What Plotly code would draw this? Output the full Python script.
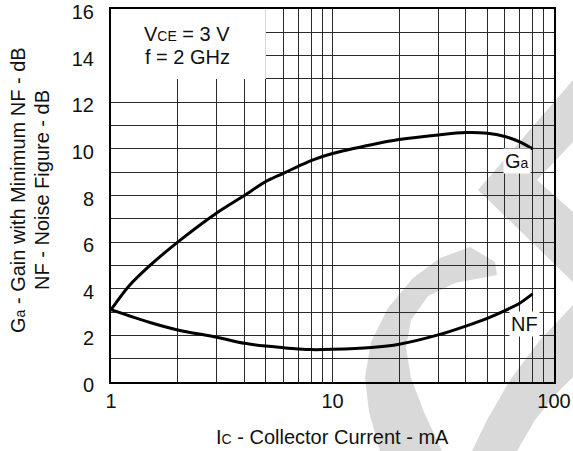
import plotly.graph_objects as go

# ---- data ----
ga_ic_ma = [1, 1.2, 1.5, 2, 3, 4, 5, 6, 7, 8, 10, 15, 20, 30, 40, 50, 60, 70, 80]
gain_db = [3.1, 4.1, 5.0, 6.0, 7.25, 8.0, 8.6, 8.95, 9.25, 9.5, 9.8, 10.18, 10.4, 10.6, 10.7, 10.67, 10.53, 10.3, 10.0]
nf_ic_ma = [1, 1.5, 2, 3, 4, 5, 6, 7, 8, 10, 15, 20, 30, 40, 50, 60, 70, 80]
nf_db = [3.1, 2.55, 2.23, 1.92, 1.66, 1.54, 1.47, 1.42, 1.39, 1.40, 1.48, 1.62, 2.02, 2.40, 2.73, 3.06, 3.38, 3.78]

x_tick_vals = [1, 10, 100]
x_tick_text = ["1", "10", "100"]
x_minor_vals = [2, 3, 4, 5, 6, 7, 8, 9, 20, 30, 40, 50, 60, 70, 80, 90]
y_tick_vals = [0, 2, 4, 6, 8, 10, 12, 14, 16]

W, H = 573, 451
L, R, T, B = 111, 19, 9, 69
PW, PH = W - L - R, H - T - B
FONT = "Liberation Sans, Arial, Helvetica, sans-serif"
FS = 20
SUB = '<span style="font-size:14px">{}</span>'


def px2paper(px, py):
    return (px - L) / PW, (H - B - py) / PH


def path_from_px(points):
    pts = [px2paper(x, y) for x, y in points]
    return "M " + " L ".join(f"{x:.4f},{y:.4f}" for x, y in pts) + " Z"


# watermark decoration (pixel outline, light grey)
wm_chevron = [(573, 80), (478, 190), (573, 282), (573, 212), (537, 180), (573, 142)]
wm_arc = [(470, 247), (440, 258), (413, 278), (388, 308), (371, 342), (365, 377), (369, 412), (380, 451),
          (442, 451), (424, 412), (411, 378), (406, 347), (411, 320), (428, 296), (455, 283), (497, 275),
          (495, 262)]
wm_band = [(573, 305), (540, 340), (510, 380), (487, 420), (472, 451),
           (517, 451), (535, 420), (555, 395), (573, 377)]

fig = go.Figure()
fig.add_trace(go.Scatter(x=ga_ic_ma, y=gain_db, mode="lines",
                         line=dict(color="black", width=3, shape="spline", smoothing=0.8),
                         showlegend=False))
fig.add_trace(go.Scatter(x=nf_ic_ma, y=nf_db, mode="lines",
                         line=dict(color="black", width=3, shape="spline", smoothing=0.8),
                         showlegend=False))

shapes = []
for poly in (wm_chevron, wm_arc, wm_band):
    shapes.append(dict(type="path", path=path_from_px(poly), xref="paper", yref="paper",
                       fillcolor="#d9d9d9", line=dict(width=0), layer="below"))
# white box behind the condition text (hides grid)
shapes.append(dict(type="rect", xref="x", yref="y", x0=1, x1=5, y0=13, y1=16,
                   fillcolor="white", line=dict(width=0), layer="between"))

grid_col = "#2a2a2a"
fig.update_layout(
    width=W, height=H,
    margin=dict(l=L, r=R, t=T, b=B, pad=0, autoexpand=False),
    paper_bgcolor="white", plot_bgcolor="rgba(0,0,0,0)",
    font=dict(family=FONT, size=FS, color="#111111"),
    shapes=shapes,
    xaxis=dict(type="log", range=[0, 2], tickmode="array", tickvals=x_tick_vals, ticktext=x_tick_text,
               showgrid=True, gridcolor=grid_col, gridwidth=1,
               minor=dict(tickmode="array", tickvals=x_minor_vals, showgrid=True, gridcolor=grid_col, gridwidth=1),
               showline=True, linecolor="black", linewidth=2, mirror=True, ticks="",
               ticklabelstandoff=0, zeroline=False, automargin=False, ticklabeloverflow="allow",
               tickfont=dict(size=FS)),
    yaxis=dict(range=[0, 16], tickmode="array", tickvals=y_tick_vals,
               showgrid=True, gridcolor=grid_col, gridwidth=1,
               minor=dict(dtick=1, showgrid=True, gridcolor=grid_col, gridwidth=1),
               showline=True, linecolor="black", linewidth=2, mirror=True, ticks="",
               ticklabelstandoff=11, ticklabelshift=3, zeroline=False, automargin=False,
               ticklabeloverflow="allow", tickfont=dict(size=FS)),
)

ann = []
ann.append(dict(text="I" + SUB.format("C") + " - Collector Current - mA", xref="paper", yref="paper",
                x=0.5, y=(H - B - 437) / PH, xanchor="center", yanchor="middle", showarrow=False,
                font=dict(size=FS)))
ann.append(dict(text="G" + SUB.format("a") + " - Gain with Minimum NF - dB", xref="paper", yref="paper",
                x=(18 - L) / PW, y=(H - B - 190) / PH, xanchor="center", yanchor="middle", textangle=-90,
                showarrow=False, font=dict(size=FS)))
ann.append(dict(text="NF - Noise Figure - dB", xref="paper", yref="paper",
                x=(42 - L) / PW, y=(H - B - 190) / PH, xanchor="center", yanchor="middle", textangle=-90,
                showarrow=False, font=dict(size=FS)))
ann.append(dict(text="V" + SUB.format("CE") + " = 3 V", xref="paper", yref="paper",
                x=(187 - L) / PW, y=(H - B - 34) / PH, xanchor="center", yanchor="middle",
                showarrow=False, font=dict(size=FS)))
ann.append(dict(text="f = 2 GHz", xref="paper", yref="paper",
                x=(187 - L) / PW, y=(H - B - 57.5) / PH, xanchor="center", yanchor="middle",
                showarrow=False, font=dict(size=FS)))
ann.append(dict(text="G" + SUB.format("a"), x=1.833, y=9.48, xref="x", yref="y",
                xanchor="center", yanchor="middle", showarrow=False, bgcolor="white", borderpad=1,
                font=dict(size=FS)))
ann.append(dict(text="NF", x=1.869, y=2.49, xref="x", yref="y",
                xanchor="center", yanchor="middle", showarrow=False, bgcolor="white", borderpad=1,
                font=dict(size=FS)))
fig.update_layout(annotations=ann)

fig.write_html("out.html", config={"displayModeBar": False},
               post_script="document.body.style.margin='0';document.body.style.padding='0';")
